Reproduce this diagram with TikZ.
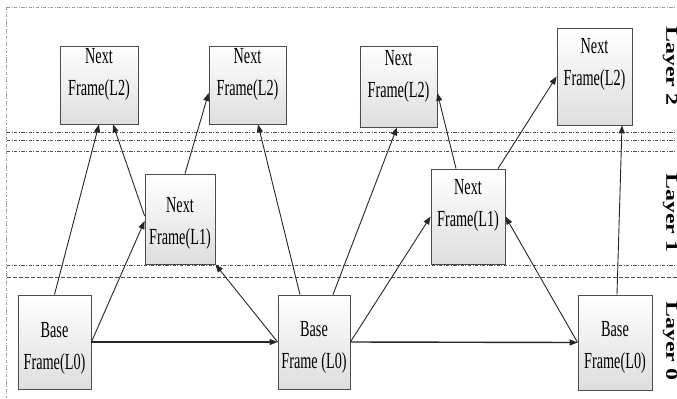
\documentclass[tikz,border=0pt]{standalone}
\usepackage{fontspec}
\usetikzlibrary{arrows.meta, shadows}
\newfontfamily\framefont[FakeStretch=0.62]{Liberation Serif}
\newfontfamily\layerfont[FakeStretch=1.44]{Liberation Serif}

\begin{document}
\begin{tikzpicture}[
	x=0.5pt, y=-0.5pt,
	box/.style = {draw=black!70, top color=white, bottom color=black!13,
		align=center, inner sep=1pt, minimum width=#1,
		font=\framefont\fontsize{11.5}{16}\selectfont,
		drop shadow={shadow xshift=0.5pt, shadow yshift=-0.5pt, fill=black!50, opacity=0.8}},
	link/.style = {draw=black!85, line width=0.45pt, -{Triangle[length=4pt, width=3pt]}},
	link+/.style = {link, line width=0.7pt},
	sep/.style = {draw=black!70, line width=0.5pt, dash pattern=on 1.6pt off 0.8pt on 0.4pt off 0.8pt},
	layer/.style = {font=\layerfont\bfseries\fontsize{8.3}{10}\selectfont, rotate=-90}
	]
	\useasboundingbox (0,0) rectangle (677,398);
%
	\draw[sep, draw=black!40] (7,7) -- (677,7);
	\draw[sep, draw=black!40] (7,7) -- (7,398);
	\foreach \y in {132,140,151,265}
		\draw[sep] (7,\y) -- (677,\y);
	\draw[sep, dash pattern=on 2pt off 1pt] (7,277) -- (677,277);
%
	\node[box=39pt, text height=23.5pt, text depth=13.5pt] (l2a) at (99,85) {Next\\Frame(L2)};
	\node[box=38.5pt, text height=23.5pt, text depth=13.5pt] (l2b) at (247.5,85) {Next\\Frame(L2)};
	\node[box=38.5pt, text height=24.5pt, text depth=14pt] (l2c) at (398.5,86.5) {Next\\Frame(L2)};
	\node[box=37.5pt, text height=27.5pt, text depth=19pt] (l2d) at (594.5,76.5) {Next\\Frame(L2)};
%
	\node[box=35pt, text height=34pt, text depth=9pt] (l1a) at (180,219) {Next\\Frame(L1)};
	\node[box=37pt, text height=27.5pt, text depth=18pt] (l1b) at (468,216.5) {Next\\Frame(L1)};
%
	\node[box=36.5pt, text height=36pt, text depth=9pt] (l0a) at (54.5,342) {Base\\Frame(L0)};
	\node[box=36pt, text height=35.5pt, text depth=9.5pt] (l0b) at (314,342) {Base\\Frame (L0)};
	\node[box=37pt, text height=35.5pt, text depth=10pt] (l0c) at (615,342.5) {Base\\Frame(L0)};
%
	\node[layer] (lay2) at (670,66) {Layer 2};
	\node[layer] (lay1) at (670,213) {Layer 1};
	\node[layer] (lay0) at (670,341) {Layer 0};
%
	\draw[link] (l0a.north) -- (l2a.south);
	\draw[link] (l0a.east) -- ([yshift=-1pt] l1a.west);
	\draw[link] ([yshift=1.5pt] l1a.west) -- ([xshift=7pt] l2a.south);
	\draw[link] ([xshift=2.5pt] l1a.north) -- ([yshift=-4pt] l2b.west);
	\draw[link] (l0b.west) -- (l1a.south east);
	\draw[link+] (l0a.east) -- (l0b.west);
%
	\draw[link] ([xshift=-7pt] l0b.north) -- ([xshift=5.25pt] l2b.south);
	\draw[link] ([xshift=9.5pt] l0b.north) -- ([xshift=-0.75pt] l2c.south);
	\draw[link] (l0b.east) -- (l1b.west);
	\draw[link+] (l0b.east) -- (l0c.west);
%
	\draw[link] ([xshift=-6pt] l1b.north) -- ([yshift=-3.25pt] l2c.east);
	\draw[link] ([xshift=15pt] l1b.north) -- (l2d.west);
	\draw[link] ([xshift=1pt] l0c.north) -- ([xshift=13.75pt] l2d.south);
	\draw[link] (l0c.west) -- (l1b.east);
\end{tikzpicture}
\end{document}
